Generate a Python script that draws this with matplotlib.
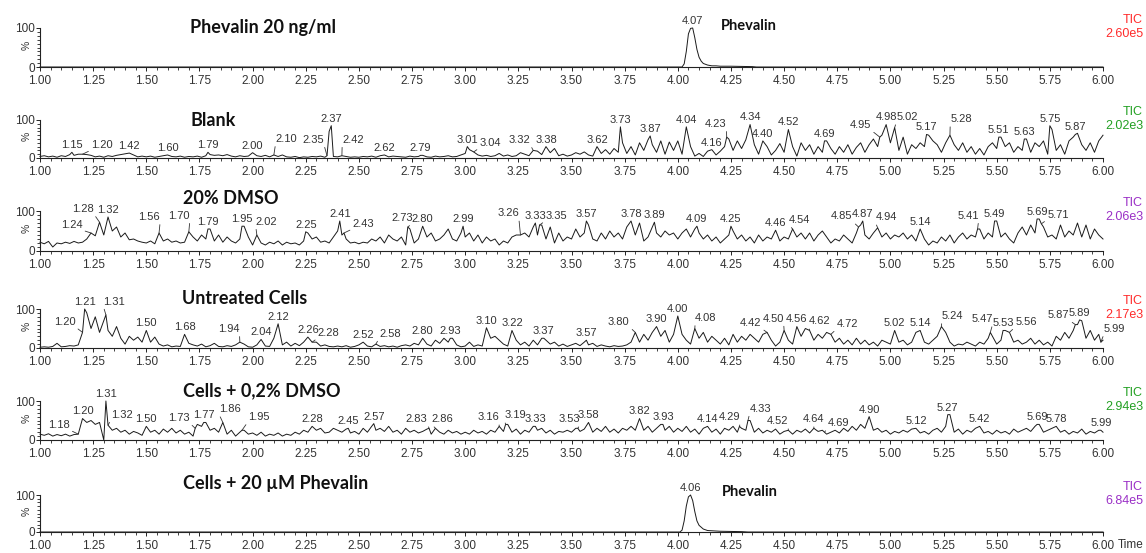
import matplotlib
matplotlib.use("Agg")
import matplotlib.pyplot as plt
import numpy as np
from matplotlib.ticker import MultipleLocator, FormatStrFormatter

plt.rcParams['font.family'] = ['Liberation Sans', 'DejaVu Sans']

W, H = 1146, 553

# ---- sample names, TIC scale and colours ----
titles = ["Phevalin 20 ng/ml", "Blank", "20% DMSO", "Untreated Cells",
          "Cells + 0,2% DMSO", "Cells + 20 \u00b5M Phevalin"]
tic_values = ["2.60e5", "2.02e3", "2.06e3", "2.17e3", "2.94e3", "6.84e5"]
tic_colors = ["#ff2b2b", "#22a022", "#9a2fc6", "#ff2b2b", "#22a022", "#9a2fc6"]

# ---- standard traces (only the peak region differs from zero) ----
std_t = [1.00, 4.02, 4.03, 4.04, 4.05, 4.06, 4.07, 4.08, 4.09, 4.10, 4.11, 4.12,
         4.14, 4.16, 4.18, 4.20, 4.25, 4.30, 4.35, 4.37, 6.00]
std_i = [0, 0, 8, 40, 85, 99, 100, 75, 45, 25, 15, 9, 5, 3, 3, 2, 2, 1.5, 1, 0, 0]
std_peaks_t = [4.07]
std_peaks_h = [100]

treat_t = [1.00, 4.01, 4.02, 4.03, 4.04, 4.05, 4.06, 4.07, 4.08, 4.09, 4.10, 4.12,
           4.14, 4.17, 4.20, 4.25, 4.30, 4.33, 6.00]
treat_i = [0, 0, 5, 30, 70, 95, 100, 85, 55, 30, 18, 8, 4, 3, 2, 1.5, 1, 0, 0]
treat_peaks_t = [4.06]
treat_peaks_h = [100]

# ---- noisy traces, one value every 0.02 min from 1.00 to 6.00 ----
blank_i = [
    4, 6, 3, 5, 2, 6, 4, 9, 7, 10, 8, 9, 7, 3, 5, 2, 6, 4, 7, 9, 11, 13, 8, 3, 5,
    3, 5, 2, 4, 6, 8, 4, 3, 5, 2, 4, 3, 5, 2, 6, 9, 7, 8, 6, 9, 5, 3, 6, 4, 5,
    13, 6, 4, 7, 3, 6, 4, 8, 3, 2, 4, 1, 3, 2, 4, 3, 5, 2, 70, 4, 3, 6, 4, 2, 3,
    2, 4, 3, 5, 2, 6, 4, 3, 5, 4, 3, 2, 5, 3, 4, 7, 3, 2, 5, 3, 4, 6, 3, 4, 8,
    12, 22, 14, 8, 5, 7, 4, 6, 12, 5, 8, 4, 6, 14, 10, 6, 20, 18, 9, 30, 14, 25, 6, 10, 5,
    8, 14, 10, 16, 8, 5, 30, 12, 22, 10, 25, 15, 40, 12, 30, 8, 40, 20, 48, 35, 15, 45, 10, 42, 20,
    45, 10, 80, 30, 5, 12, 4, 18, 22, 8, 18, 30, 50, 20, 45, 25, 48, 85, 35, 10, 45, 30, 8, 20, 38,
    15, 75, 30, 5, 40, 20, 35, 10, 30, 15, 45, 25, 10, 30, 15, 35, 10, 28, 40, 15, 35, 50, 30, 60, 85,
    40, 78, 20, 55, 10, 35, 25, 40, 30, 60, 45, 35, 15, 40, 60, 35, 20, 40, 15, 30, 10, 25, 8, 30, 40,
    25, 55, 30, 40, 15, 30, 20, 50, 15, 40, 30, 45, 10, 75, 20, 35, 10, 45, 55, 65, 35, 20, 40, 15, 45,
    60]
blank_peaks_t = [1.15, 1.20, 1.42, 1.60, 1.79, 2.00, 2.10, 2.35, 2.37, 2.42, 2.62, 2.79,
                 3.01, 3.04, 3.32, 3.38, 3.62, 3.73, 3.87, 4.04, 4.16, 4.23, 4.34, 4.40,
                 4.52, 4.69, 4.95, 4.98, 5.02, 5.17, 5.28, 5.51, 5.63, 5.75, 5.87]
blank_peaks_h = [15, 10, 13, 8, 15, 14, 8, 6, 85, 6, 8, 7,
                 30, 16, 20, 30, 30, 82, 58, 82, 22, 55, 88, 45,
                 75, 45, 55, 88, 80, 62, 60, 55, 50, 85, 62]

dmso_i = [
    22, 18, 24, 10, 20, 18, 22, 19, 24, 20, 22, 30, 45, 38, 70, 40, 85, 50, 60, 35, 45, 28, 30, 25, 22,
    20, 25, 18, 45, 25, 30, 22, 25, 20, 22, 45, 35, 25, 40, 30, 55, 25, 40, 22, 35, 25, 20, 30, 62, 35,
    15, 40, 20, 15, 22, 18, 25, 15, 22, 18, 20, 15, 25, 45, 30, 35, 22, 25, 20, 35, 50, 40, 30, 20, 22,
    18, 22, 20, 30, 25, 35, 20, 40, 30, 25, 35, 15, 55, 20, 30, 62, 35, 45, 25, 30, 40, 55, 30, 25, 45,
    35, 45, 25, 40, 20, 35, 25, 30, 15, 25, 20, 35, 40, 30, 45, 35, 60, 40, 65, 30, 60, 20, 45, 25, 35,
    30, 55, 35, 45, 65, 30, 25, 45, 30, 50, 35, 45, 30, 60, 75, 40, 70, 25, 35, 60, 45, 35, 50, 40, 45,
    30, 45, 55, 35, 55, 45, 30, 40, 25, 35, 20, 30, 40, 50, 30, 40, 25, 35, 20, 40, 25, 35, 30, 50, 25,
    35, 30, 55, 35, 45, 30, 45, 25, 40, 50, 35, 20, 30, 25, 40, 30, 20, 45, 65, 40, 30, 45, 55, 35, 45,
    30, 40, 35, 45, 30, 40, 25, 55, 30, 15, 25, 20, 35, 25, 40, 20, 35, 45, 30, 40, 35, 55, 30, 45, 35,
    75, 35, 45, 30, 20, 45, 60, 40, 65, 45, 80, 60, 35, 40, 30, 65, 35, 50, 40, 70, 35, 65, 30, 55, 40,
    30]
dmso_peaks_t = [1.24, 1.28, 1.32, 1.56, 1.70, 1.79, 1.95, 2.02, 2.25, 2.41, 2.43, 2.73,
                2.80, 2.99, 3.26, 3.33, 3.35, 3.57, 3.78, 3.89, 4.09, 4.25, 4.46, 4.54,
                4.85, 4.87, 4.94, 5.14, 5.41, 5.49, 5.69, 5.71]
dmso_peaks_h = [45, 72, 85, 45, 48, 55, 62, 40, 48, 75, 45, 60,
                62, 62, 40, 70, 65, 75, 75, 72, 62, 62, 52, 55,
                60, 75, 58, 55, 55, 75, 80, 68]

cells_i = [
    2, 3, 2, 4, 12, 3, 4, 6, 5, 8, 40, 90, 50, 80, 40, 70, 45, 30, 55, 25, 10, 30, 20, 28, 15,
    45, 15, 28, 10, 5, 8, 3, 5, 4, 35, 12, 8, 5, 10, 3, 6, 12, 4, 3, 6, 4, 8, 15, 10, 3,
    2, 8, 20, 5, 4, 25, 60, 8, 15, 5, 12, 6, 15, 28, 12, 15, 5, 8, 4, 3, 5, 3, 6, 2, 4,
    8, 15, 5, 3, 10, 4, 6, 3, 5, 2, 6, 8, 5, 12, 8, 25, 10, 5, 20, 12, 25, 15, 25, 8, 3,
    5, 15, 4, 8, 5, 50, 25, 30, 20, 10, 5, 45, 20, 8, 15, 5, 20, 8, 25, 20, 10, 15, 5, 10, 4,
    8, 12, 6, 15, 8, 12, 4, 8, 5, 3, 6, 4, 5, 8, 15, 40, 15, 35, 20, 40, 55, 30, 45, 15, 35,
    80, 35, 20, 10, 50, 25, 40, 15, 30, 20, 10, 25, 8, 35, 15, 30, 20, 35, 25, 15, 35, 40, 20, 5, 15,
    45, 20, 10, 55, 30, 50, 45, 20, 35, 25, 40, 35, 15, 25, 10, 20, 8, 25, 10, 20, 8, 15, 5, 20, 15,
    10, 45, 15, 20, 8, 15, 40, 45, 15, 10, 20, 30, 55, 40, 15, 5, 10, 8, 15, 10, 5, 15, 10, 25, 30,
    10, 20, 45, 40, 15, 20, 10, 15, 25, 10, 20, 8, 15, 5, 30, 20, 40, 25, 45, 60, 70, 25, 45, 20, 35,
    20]
cells_peaks_t = [1.20, 1.21, 1.31, 1.50, 1.68, 1.94, 2.04, 2.12, 2.26, 2.28, 2.52, 2.58,
                 2.80, 2.93, 3.10, 3.22, 3.37, 3.57, 3.80, 3.90, 4.00, 4.08, 4.42, 4.50,
                 4.56, 4.62, 4.72, 5.02, 5.14, 5.24, 5.47, 5.53, 5.56, 5.87, 5.89, 5.99]
cells_peaks_h = [40, 100, 85, 45, 35, 15, 22, 62, 28, 15, 15, 10,
                 25, 25, 52, 45, 25, 20, 40, 55, 82, 50, 40, 45,
                 55, 45, 35, 45, 45, 55, 40, 45, 40, 60, 72, 15]

cdmso_i = [
    15, 12, 16, 10, 14, 11, 15, 10, 14, 12, 55, 45, 50, 40, 45, 0, 35, 25, 30, 20, 25, 15, 22, 18, 12,
    35, 20, 25, 15, 28, 20, 30, 18, 25, 15, 20, 10, 40, 35, 45, 25, 30, 20, 45, 15, 25, 10, 20, 25, 15,
    18, 12, 20, 10, 15, 12, 18, 10, 15, 12, 20, 15, 25, 20, 35, 25, 30, 18, 20, 30, 25, 20, 28, 18, 22,
    15, 30, 20, 35, 25, 30, 22, 35, 20, 25, 15, 30, 20, 25, 18, 22, 28, 15, 30, 20, 15, 25, 18, 22, 15,
    20, 15, 25, 18, 22, 15, 25, 20, 35, 22, 40, 20, 28, 15, 25, 20, 35, 25, 30, 18, 25, 15, 22, 20, 25,
    20, 30, 22, 28, 45, 20, 30, 22, 35, 20, 28, 18, 30, 25, 35, 25, 55, 25, 35, 20, 30, 40, 25, 35, 20,
    30, 22, 35, 20, 28, 15, 30, 35, 20, 28, 15, 30, 25, 35, 20, 30, 25, 50, 20, 30, 18, 25, 20, 28, 15,
    22, 25, 15, 25, 20, 28, 18, 30, 22, 25, 15, 20, 25, 18, 30, 22, 35, 25, 40, 30, 60, 25, 30, 20, 25,
    15, 22, 18, 25, 20, 28, 30, 18, 22, 15, 25, 30, 20, 35, 65, 20, 28, 15, 25, 20, 30, 35, 18, 22, 15,
    25, 18, 22, 15, 28, 20, 25, 30, 22, 35, 40, 20, 25, 30, 35, 20, 25, 15, 22, 18, 28, 15, 22, 18, 25,
    20]
cdmso_peaks_t = [1.18, 1.20, 1.31, 1.32, 1.50, 1.73, 1.77, 1.86, 1.95, 2.28, 2.45, 2.57,
                 2.83, 2.86, 3.16, 3.19, 3.33, 3.53, 3.58, 3.82, 3.93, 4.14, 4.29, 4.33,
                 4.52, 4.64, 4.69, 4.90, 5.12, 5.27, 5.42, 5.69, 5.78, 5.99]
cdmso_peaks_h = [15, 55, 100, 38, 35, 30, 45, 45, 25, 35, 30, 42,
                 30, 30, 35, 40, 35, 30, 45, 55, 40, 35, 35, 50,
                 25, 30, 20, 60, 30, 65, 35, 40, 35, 25]

# ---- label offsets (points) for labels pulled away from their peak ----
blank_moved = {1.20: (14, 3), 2.10: (9, 8), 2.35: (-10, 8), 2.42: (8, 8), 3.04: (12, 3),
               3.32: (-10, 4), 4.23: (-8, 6), 4.95: (-14, 5), 5.02: (9, 4), 5.28: (8, 8)}
dmso_moved = {1.24: (-14, 2), 1.28: (-12, 6), 1.56: (-7, 8), 1.70: (-7, 8), 2.02: (7, 6),
              2.43: (14, 3), 2.73: (-4, 3), 3.26: (-9, 12), 3.35: (12, 3), 4.54: (5, 3),
              4.85: (-12, 4), 4.94: (6, 4), 5.41: (-7, 6), 5.71: (12, 3)}
cells_moved = {1.20: (-13, 4), 1.31: (6, 6), 1.94: (-8, 6), 2.28: (12, 3), 2.58: (10, 4),
               3.80: (-12, 4), 4.08: (8, 4), 4.42: (-12, 3), 4.50: (-8, 5), 4.62: (7, 3),
               4.72: (12, 4), 5.24: (8, 4), 5.47: (-6, 6), 5.56: (12, 4), 5.87: (-12, 3),
               5.99: (10, 6)}
cdmso_moved = {1.18: (-14, 3), 1.32: (10, 4), 1.73: (-12, 4), 1.86: (5, 6), 1.95: (12, 6),
               2.83: (-9, 3), 2.86: (5, 3), 3.16: (-8, 3), 3.19: (7, 3), 3.53: (-6, 3),
               4.29: (-7, 3), 4.33: (9, 5), 4.52: (-8, 3), 4.64: (0, 3), 4.69: (10, 3)}

# pixel geometry of each panel: (zero line, 100 % line)
panel_y = [(67, 28), (158, 120), (251, 211), (348, 309), (440, 401), (532, 495)]
x_left, x_right = 40, 1103
title_pos = [(190, 27), (190, 121), (183, 199), (182, 299), (183, 391), (183, 484)]


def merged_trace(values, peaks_t, peaks_h):
    grid = np.round(1.0 + 0.02 * np.arange(len(values)), 2)
    pts = dict(zip(grid.tolist(), values))
    for t, h in zip(peaks_t, peaks_h):
        pts[round(t, 2)] = h
    ts = sorted(pts)
    return ts, [pts[t] for t in ts]


traces = [
    (std_t, std_i, std_peaks_t, std_peaks_h, {}),
    merged_trace(blank_i, blank_peaks_t, blank_peaks_h) + (blank_peaks_t, blank_peaks_h, blank_moved),
    merged_trace(dmso_i, dmso_peaks_t, dmso_peaks_h) + (dmso_peaks_t, dmso_peaks_h, dmso_moved),
    merged_trace(cells_i, cells_peaks_t, cells_peaks_h) + (cells_peaks_t, cells_peaks_h, cells_moved),
    merged_trace(cdmso_i, cdmso_peaks_t, cdmso_peaks_h) + (cdmso_peaks_t, cdmso_peaks_h, cdmso_moved),
    (treat_t, treat_i, treat_peaks_t, treat_peaks_h, {}),
]

fig = plt.figure(figsize=(W / 100, H / 100), dpi=100)
txt = '#333333'

for k, (ts, vals, pk_t, pk_h, moved) in enumerate(traces):
    y0, y100 = panel_y[k]
    ax = fig.add_axes([x_left / W, 1 - y0 / H, (x_right - x_left) / W, (y0 - y100) / H])
    ax.plot(ts, vals, color='#1a1a1a', lw=0.7, clip_on=False)
    ax.set_xlim(1.0, 6.0)
    ax.set_ylim(0, 100)
    for s in ('top', 'right'):
        ax.spines[s].set_visible(False)
    for s in ('left', 'bottom'):
        ax.spines[s].set_linewidth(0.8)
        ax.spines[s].set_color('#222222')
    ax.xaxis.set_major_locator(MultipleLocator(0.25))
    ax.xaxis.set_minor_locator(MultipleLocator(0.05))
    ax.xaxis.set_major_formatter(FormatStrFormatter('%.2f'))
    ax.set_yticks([0, 100])
    ax.yaxis.set_minor_locator(MultipleLocator(10))
    ax.tick_params(axis='both', which='major', labelsize=8.5, labelcolor=txt, color='#222222',
                   length=3, width=0.7)
    ax.tick_params(axis='x', which='major', pad=2.5)
    ax.tick_params(axis='y', which='major', pad=0.5)
    ax.tick_params(axis='both', which='minor', length=2, width=0.6, color='#222222')
    ax.text(-0.008, 0.56, '%', transform=ax.transAxes, rotation=90, ha='right', va='center',
            fontsize=7.5, color=txt)

    for t, h in zip(pk_t, pk_h):
        if t in moved:
            dx, dy = moved[t]
            ax.annotate(f"{t:.2f}", xy=(t, h), xytext=(dx, dy), textcoords='offset points',
                        ha='center', va='bottom', fontsize=8, color=txt, annotation_clip=False,
                        arrowprops=dict(arrowstyle='-', lw=0.6, color='#333333',
                                        shrinkA=0, shrinkB=0, relpos=(0.5 - 0.5 * np.sign(dx), 0)))
        else:
            ax.annotate(f"{t:.2f}", xy=(t, h), xytext=(0, 1.5), textcoords='offset points',
                        ha='center', va='bottom', fontsize=8, color=txt, annotation_clip=False)

    tx, ty = title_pos[k]
    fig.text(tx / W, 1 - ty / H, titles[k], fontsize=13, fontweight='bold',
             family=['Lato', 'DejaVu Sans'], ha='left', va='center', color='#111111')

    fig.text(1143 / W, 1 - (y100 - 8) / H, 'TIC', fontsize=9, color=tic_colors[k],
             ha='right', va='center')
    fig.text(1143 / W, 1 - (y100 + 6) / H, tic_values[k], fontsize=9, color=tic_colors[k],
             ha='right', va='center')

# compound name next to the Phevalin peaks
fig.text(721 / W, 1 - 26 / H, 'Phevalin', fontsize=10.5, fontweight='bold',
         family=['Lato', 'DejaVu Sans'], ha='left', va='center', color='#111111')
fig.text(722 / W, 1 - 492 / H, 'Phevalin', fontsize=10.5, fontweight='bold',
         family=['Lato', 'DejaVu Sans'], ha='left', va='center', color='#111111')
fig.text(1131 / W, 1 - 545 / H, 'Time', fontsize=8.5, color=txt, ha='center', va='center')

fig.savefig('out.png', dpi=100)
